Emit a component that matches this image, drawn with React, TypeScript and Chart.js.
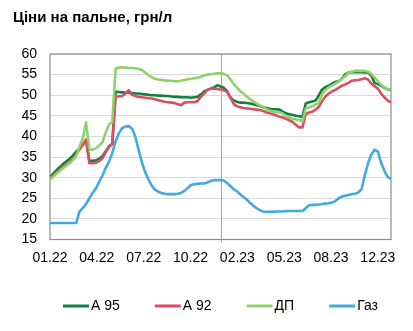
import { useEffect, useRef } from "react";
import { Chart, registerables } from "chart.js";

Chart.register(...registerables);

const chartTitle = "Ціни на пальне, грн/л";
const seriesNames = ["А 95", "А 92", "ДП", "Газ"];
const seriesColors = ["#13803f", "#dc4f63", "#8fd16a", "#43a9e0"];

// weekly observations, starting 01.01.2022
const stepDays = 7;
const a95 = [
  30.2, 31.0, 31.8, 32.6, 33.3, 34.0, 34.6, 35.4, 36.3, 37.1, 38.0, 39.0, 34.1, 34.1, 34.2, 34.6, 35.2, 36.4, 37.6, 38.2,
  50.8, 50.8, 50.7, 50.6, 50.6, 50.5, 50.4, 50.4, 50.3, 50.2, 50.1, 50.0, 50.0, 49.9, 49.9, 49.8, 49.8, 49.7, 49.6, 49.6,
  49.5, 49.5, 49.5, 49.4, 49.5, 49.6, 50.2, 50.9, 51.3, 51.6, 51.9, 52.4, 52.1, 51.8, 51.0, 49.5, 48.7, 48.4, 48.2, 48.2,
  48.1, 48.0, 47.8, 47.6, 47.4, 47.1, 46.9, 46.7, 46.6, 46.6, 46.5, 46.0, 45.6, 45.4, 45.2, 45.0, 44.9, 44.8, 48.0, 48.3,
  48.5, 48.7, 50.0, 51.4, 52.0, 52.3, 52.8, 53.2, 53.4, 54.0, 55.0, 55.5, 55.6, 55.6, 55.6, 55.6, 55.5, 55.5, 54.8, 53.0,
  52.7, 52.3, 51.8, 51.4, 51.3,
];
const a92 = [
  29.8, 30.5, 31.2, 31.9, 32.5, 33.1, 33.8, 34.6, 35.6, 36.8, 38.0, 39.3, 33.5, 33.5, 33.6, 34.0, 34.7, 36.2, 37.4, 38.2,
  49.7, 49.7, 49.8, 50.4, 51.2, 50.1, 49.8, 49.6, 49.5, 49.4, 49.3, 49.2, 49.0, 48.8, 48.6, 48.4, 48.3, 48.2, 48.1, 47.8,
  47.6, 48.2, 48.3, 48.3, 48.3, 48.6, 49.6, 50.4, 51.3, 51.6, 51.6, 51.5, 51.4, 51.2, 50.8, 49.4, 47.9, 47.3, 47.1, 46.9,
  46.8, 46.7, 46.6, 46.5, 46.4, 46.2, 45.8, 45.6, 45.4, 45.1, 44.8, 44.6, 44.3, 43.9, 43.5, 42.8, 42.2, 42.2, 45.4, 45.8,
  46.0, 46.5, 47.2, 48.6, 49.7, 50.4, 50.9, 51.3, 51.8, 52.3, 52.6, 53.0, 53.5, 53.6, 53.7, 53.9, 54.1, 53.8, 52.8, 52.2,
  51.6, 50.4, 49.5, 48.7, 48.3,
];
const diesel = [
  29.5, 30.2, 31.0, 31.7, 32.3, 32.9, 33.5, 34.3, 35.3, 37.5, 39.5, 43.4, 36.8, 36.8, 37.1, 37.8, 38.6, 41.0, 42.9, 43.5,
  56.4, 56.7, 56.8, 56.7, 56.6, 56.6, 56.5, 56.4, 56.1, 55.5, 54.9, 54.4, 54.0, 53.8, 53.7, 53.6, 53.5, 53.5, 53.4, 53.4,
  53.5, 53.7, 53.9, 54.0, 54.1, 54.2, 54.5, 54.8, 55.0, 55.1, 55.2, 55.3, 55.3, 55.2, 54.8, 53.9, 52.7, 51.9, 51.0, 50.4,
  49.7, 49.1, 48.5, 48.0, 47.5, 47.2, 46.6, 46.3, 46.1, 45.9, 45.8, 45.6, 44.9, 44.6, 44.3, 44.1, 44.0, 43.7, 46.8, 47.1,
  47.3, 47.7, 48.2, 50.3, 51.3, 51.9, 52.4, 52.8, 53.3, 53.9, 54.6, 55.4, 55.7, 55.9, 55.9, 55.9, 55.9, 55.7, 55.2, 54.3,
  53.4, 52.5, 51.9, 51.5, 51.3,
];
const gas = [
  19.0, 19.0, 19.0, 19.0, 19.0, 19.0, 19.0, 19.0, 19.0, 21.8, 22.6, 23.6, 25.0, 26.3, 27.4, 29.0, 30.5, 32.4, 33.9, 36.0,
  38.8, 40.8, 42.0, 42.4, 42.5, 41.9, 40.0, 36.8, 33.8, 31.4, 29.6, 28.1, 27.1, 26.6, 26.3, 26.1, 26.0, 26.0, 26.0, 26.1,
  26.3, 26.8, 27.5, 28.2, 28.4, 28.5, 28.6, 28.6, 28.8, 29.2, 29.4, 29.4, 29.4, 29.3, 28.7, 28.0, 27.2, 26.7, 26.0, 25.3,
  24.7, 23.9, 23.2, 22.6, 22.1, 21.8, 21.7, 21.7, 21.7, 21.8, 21.8, 21.8, 21.9, 21.9, 21.9, 21.9, 21.9, 21.9, 22.6, 23.3,
  23.4, 23.4, 23.5, 23.6, 23.7, 23.8, 24.0, 24.3, 25.0, 25.4, 25.6, 25.8, 26.0, 26.1, 26.4, 27.2, 30.5, 33.5, 35.6, 36.8,
  36.3, 33.6, 31.6, 30.2, 29.6,
];
const seriesValues = [a95, a92, diesel, gas];

const tickDays = [0, 100, 200, 300, 400, 500, 600, 700];
const tickLabels = ["01.22", "04.22", "07.22", "10.22", "02.23", "05.23", "08.23", "12.23"];
const yearBoundaryDay = 365;
const yMin = 15;
const yMax = 60;
const yStep = 5;

const FONT = "'Liberation Sans', Arial, sans-serif";

const decorPlugin = {
  id: "decor",
  beforeDatasetsDraw(chart: any) {
    const { ctx, chartArea } = chart;
    const xs = chart.scales.x;
    ctx.save();
    const vx = Math.round(xs.getPixelForValue(yearBoundaryDay)) + 0.5;
    ctx.strokeStyle = "#a6a6a6";
    ctx.lineWidth = 1;
    ctx.beginPath();
    ctx.moveTo(vx, chartArea.top);
    ctx.lineTo(vx, chartArea.bottom + 3);
    ctx.stroke();
    ctx.strokeStyle = "#8c8c8c";
    ctx.lineWidth = 1.2;
    ctx.strokeRect(chartArea.left, chartArea.top, chartArea.right - chartArea.left, chartArea.bottom - chartArea.top);
    ctx.restore();
  },
  afterDraw(chart: any) {
    const { ctx, chartArea } = chart;
    ctx.save();
    ctx.fillStyle = "#000";
    ctx.font = `bold 15px ${FONT}`;
    ctx.textBaseline = "alphabetic";
    ctx.textAlign = "left";
    ctx.fillText(chartTitle, 13, 21.5);

    ctx.font = `14px ${FONT}`;
    const lineLen = 26;
    const gapText = 2;
    const gapItem = 35;
    const items = chart.data.datasets.map((d: any) => ({
      label: d.label,
      color: d.borderColor,
      w: lineLen + gapText + ctx.measureText(d.label).width,
    }));
    const total = items.reduce((s: number, it: any) => s + it.w, 0) + gapItem * (items.length - 1);
    let x = (chartArea.left + chartArea.right) / 2 - total / 2;
    const y = 306;
    ctx.textBaseline = "middle";
    for (const it of items) {
      ctx.strokeStyle = it.color;
      ctx.lineWidth = 3;
      ctx.beginPath();
      ctx.moveTo(x, y);
      ctx.lineTo(x + lineLen, y);
      ctx.stroke();
      ctx.fillStyle = "#000";
      ctx.fillText(it.label, x + lineLen + gapText, y + 0.5);
      x += it.w + gapItem;
    }
    ctx.restore();
  },
};

export default function App() {
  const ref = useRef<HTMLCanvasElement | null>(null);
  useEffect(() => {
    if (!ref.current) return;
    const days = a95.map((_, i) => i * stepDays);
    const order = [4, 3, 2, 1];
    const chart = new Chart(ref.current, {
      type: "line",
      data: {
        datasets: seriesNames.map((name, k) => ({
          label: name,
          data: seriesValues[k].map((v, i) => ({ x: days[i], y: v })),
          borderColor: seriesColors[k],
          backgroundColor: seriesColors[k],
          borderWidth: 2.6,
          pointRadius: 0,
          tension: 0,
          borderJoinStyle: "round" as const,
          order: order[k],
        })),
      },
      options: {
        animation: false,
        responsive: false,
        maintainAspectRatio: false,
        layout: { padding: { left: 0, top: 54, right: 22, bottom: 61.5 } },
        plugins: {
          legend: { display: false },
          title: { display: false },
          tooltip: { enabled: false },
        },
        scales: {
          x: {
            type: "linear",
            min: 0,
            max: days[days.length - 1],
            afterBuildTicks: (scale: any) => {
              scale.ticks = tickDays.map((v) => ({ value: v }));
            },
            afterFit: (scale: any) => {
              scale.height = 30;
            },
            grid: { display: false, drawTicks: false },
            border: { display: false },
            ticks: {
              autoSkip: false,
              maxRotation: 0,
              padding: 10,
              color: "#000",
              font: { family: FONT, size: 14 },
              callback: (v: any) => {
                const idx = tickDays.indexOf(Number(v));
                return idx >= 0 ? tickLabels[idx] : "";
              },
            },
          },
          y: {
            min: yMin,
            max: yMax,
            afterFit: (scale: any) => {
              scale.width = 50;
            },
            grid: { color: "#d9d9d9", lineWidth: 1, drawTicks: false },
            border: { display: false },
            ticks: {
              stepSize: yStep,
              padding: 13,
              color: "#000",
              font: { family: FONT, size: 14 },
            },
          },
        },
      },
      plugins: [decorPlugin],
    });
    return () => chart.destroy();
  }, []);
  return (
    <div style={{ position: "fixed", left: 0, top: 0, width: 413, height: 331, background: "#fff" }}>
      <canvas ref={ref} width={413} height={331} />
    </div>
  );
}
